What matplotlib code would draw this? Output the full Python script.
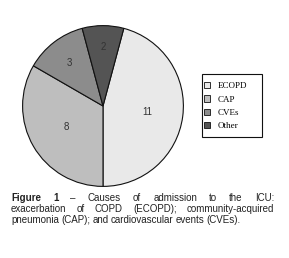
import matplotlib
matplotlib.use("Agg")
import numpy as np
import matplotlib.pyplot as plt
from matplotlib.patches import Patch, Rectangle

# data
causes = ["ECOPD", "CAP", "CVEs", "Other"]
counts = [11, 8, 3, 2]
colors = ["#e9e9e9", "#bebebe", "#8c8c8c", "#545454"]
label_r = [0.56, 0.52, 0.68, 0.74]

caption_lines = [
    ["Causes", "of", "admission", "to", "the", "ICU:"],
    ["exacerbation", "of", "COPD", "(ECOPD);", "community-acquired"],
    ["pneumonia", "(CAP);", "and", "cardiovascular", "events", "(CVEs)."],
]

W, H = 289, 258
fig = plt.figure(figsize=(W / 100, H / 100), dpi=100)

# pie, center (103,106) px, radius 82 px
cx, cy, r = 103, 106, 82
ax = fig.add_axes([(cx - r) / W, (H - cy - r) / H, 2 * r / W, 2 * r / H])
wedges, _ = ax.pie(counts, colors=colors, startangle=75, counterclock=False,
                   wedgeprops=dict(edgecolor="#111111", linewidth=0.8))
for w, n, d in zip(wedges, counts, label_r):
    ang = np.deg2rad((w.theta1 + w.theta2) / 2)
    ax.text(d * np.cos(ang), d * np.sin(ang), str(n), ha="center", va="center",
            fontsize=7, family="Liberation Sans", color="#333333")
ax.set_xlim(-1.02, 1.02)
ax.set_ylim(-1.02, 1.02)
ax.set_aspect("auto")
ax.axis("off")

# legend box
fig.patches.append(Rectangle((202 / W, 1 - 137 / H), 60 / W, 63 / H,
                             transform=fig.transFigure, facecolor="white",
                             edgecolor="#111111", linewidth=0.8))
handles = [Patch(facecolor=c, edgecolor="#111111", linewidth=0.6) for c in colors]
fig.legend(handles, causes, loc="upper left",
           bbox_to_anchor=(204 / W, 1 - 82 / H),
           prop=dict(family="Liberation Serif", size=6.5),
           frameon=False, handlelength=0.7, handleheight=0.7,
           handletextpad=0.8, labelspacing=0.55, borderpad=0, borderaxespad=0)

# caption, justified text
fig.canvas.draw()
renderer = fig.canvas.get_renderer()
fs = 7
x0, x1 = 11 / W, 274 / W
ys = [1 - 198 / H, 1 - 209 / H, 1 - 220 / H]
cap_font = "Liberation Sans"


def width_of(t):
    bb = t.get_window_extent(renderer=renderer)
    return bb.width / W


for i, (words, y) in enumerate(zip(caption_lines, ys)):
    items = []
    if i == 0:
        items.append(("Figure", "bold"))
        items.append(("1", "bold"))
        items.append(("\u2013", "normal"))
    items += [(w, "normal") for w in words]
    texts = [fig.text(0, y, s, fontsize=fs, family=cap_font, weight=wt,
                      va="center", ha="left", color="#222222") for s, wt in items]
    widths = [width_of(t) for t in texts]
    if i < len(caption_lines) - 1:
        gap = (x1 - x0 - sum(widths)) / (len(texts) - 1)
    else:
        gap = 2.2 / W
    x = x0
    for t, wd in zip(texts, widths):
        t.set_x(x)
        x += wd + gap

fig.savefig("out.png", dpi=100)
